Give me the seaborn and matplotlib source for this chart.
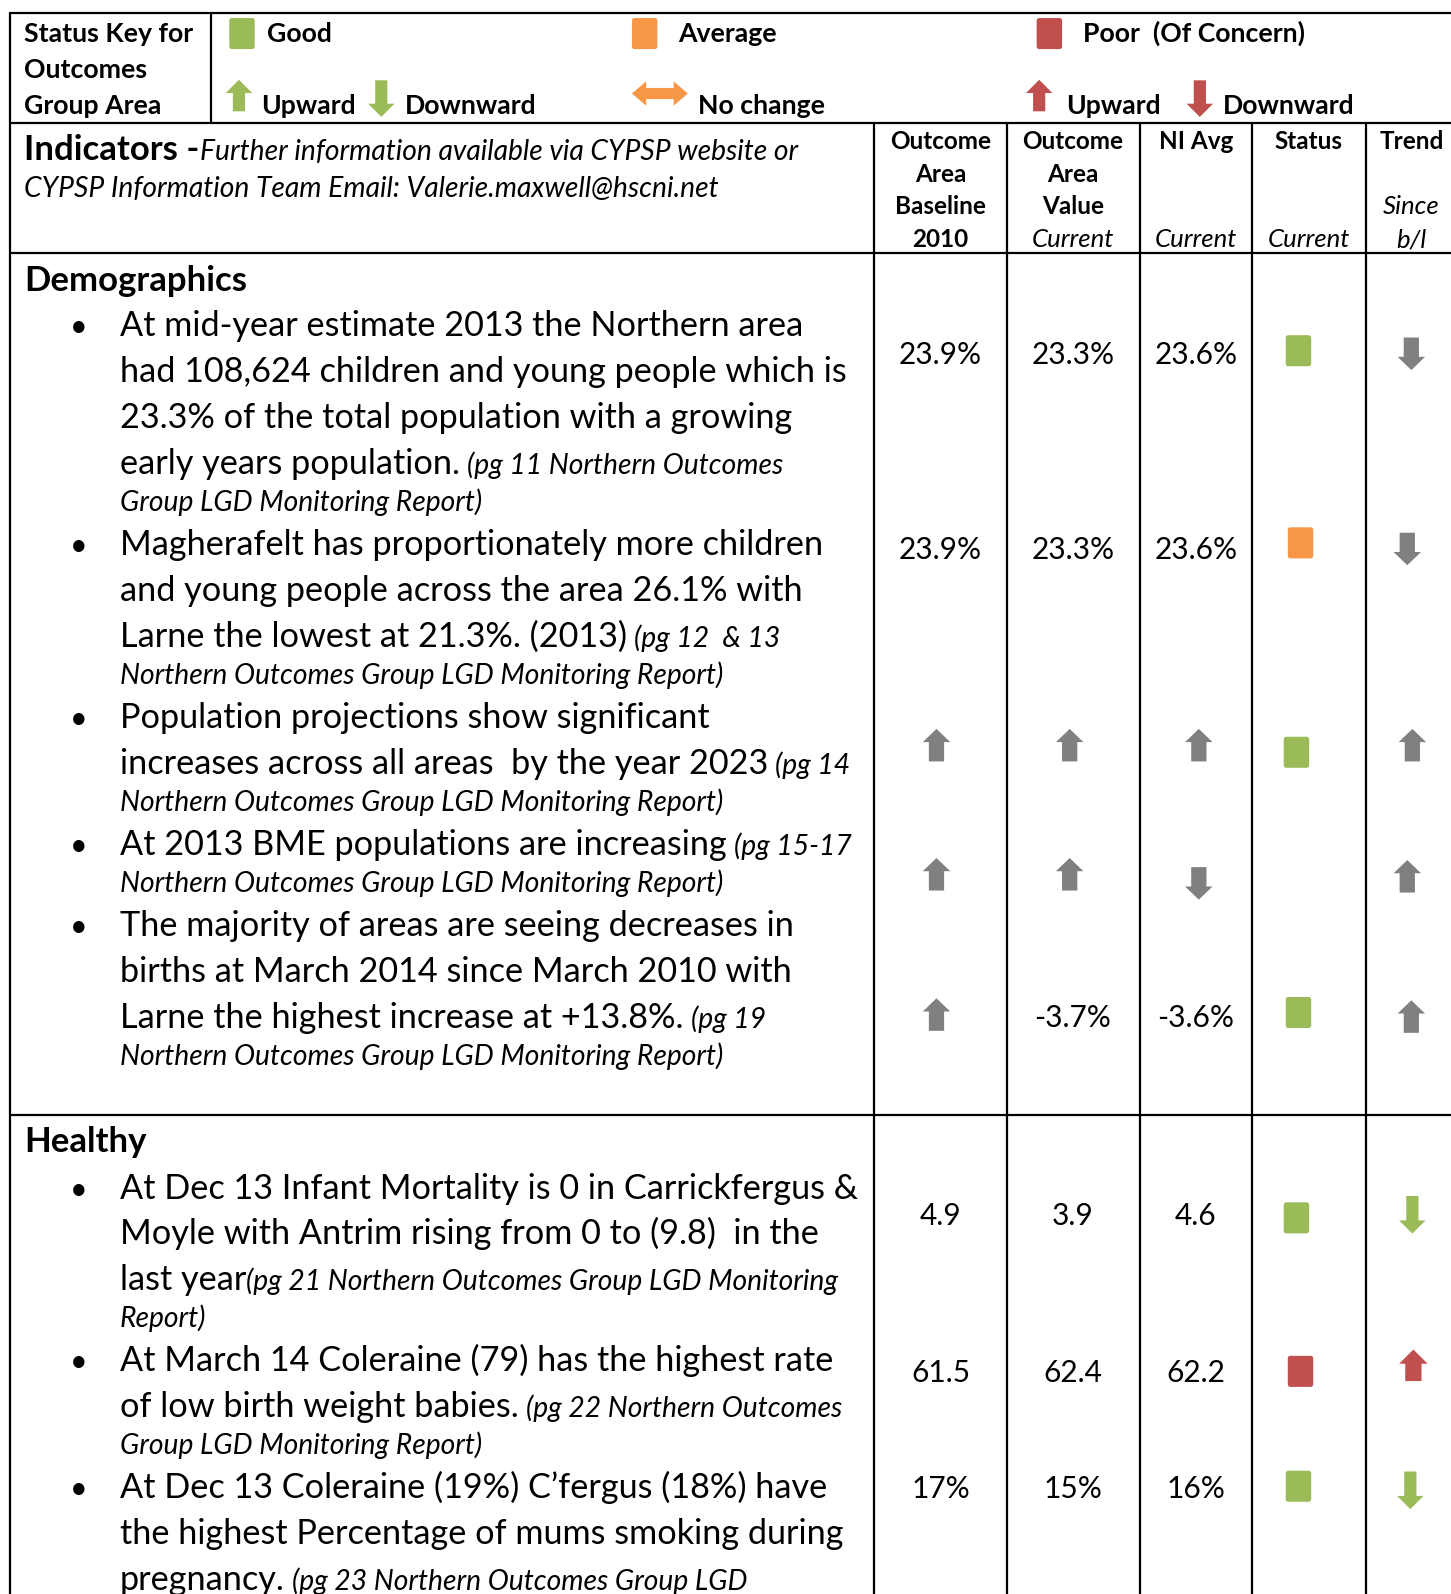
import numpy as np
import pandas as pd
import matplotlib
matplotlib.use("Agg")
import matplotlib.pyplot as plt
from matplotlib.patches import Polygon
from matplotlib.path import Path
import seaborn as sns

# ---------------- data ----------------
sections = ["Demographics", "Healthy"]

# one entry per indicator row (5 demographics + 3 healthy)
row_section = ["Demographics"] * 5 + ["Healthy"] * 3
baseline = ["23.9%", "23.9%", "up", "up", "up", "4.9", "61.5", "17%"]
area_value = ["23.3%", "23.3%", "up", "up", "-3.7%", "3.9", "62.4", "15%"]
ni_avg = ["23.6%", "23.6%", "up", "down", "-3.6%", "4.6", "62.2", "16%"]
status = ["Good", "Average", "Good", None, "Good", "Good", "Poor", "Good"]
trend = ["down", "down", "up", "up", "up", "down", "up", "down"]
trend_rating = [None, None, None, None, None, "Good", "Poor", "Good"]

# bullet texts, each line is a list of (text, style); a leading space means a gap
bullets = {
    "Demographics": [
        [[("At mid-year estimate 2013 the Northern area", "r")],
         [("had 108,624 children and young people which is", "r")],
         [("23.3% of the total population with a growing", "r")],
         [("early years population.", "r"), (" (pg 11 Northern Outcomes", "i")],
         [("Group LGD Monitoring Report)", "i")]],
        [[("Magherafelt has proportionately more children", "r")],
         [("and young people across the area 26.1% with", "r")],
         [("Larne the lowest at 21.3%. (2013)", "r"), (" (pg 12  & 13", "i")],
         [("Northern Outcomes Group LGD Monitoring Report)", "i")]],
        [[("Population projections show significant", "r")],
         [("increases across all areas  by the year 2023", "r"), (" (pg 14", "i")],
         [("Northern Outcomes Group LGD Monitoring Report)", "i")]],
        [[("At 2013 BME populations are increasing", "r"), (" (pg 15-17", "i")],
         [("Northern Outcomes Group LGD Monitoring Report)", "i")]],
        [[("The majority of areas are seeing decreases in", "r")],
         [("births at March 2014 since March 2010 with", "r")],
         [("Larne the highest increase at +13.8%.", "r"), (" (pg 19", "i")],
         [("Northern Outcomes Group LGD Monitoring Report)", "i")]],
    ],
    "Healthy": [
        [[("At Dec 13 Infant Mortality is 0 in Carrickfergus &", "r")],
         [("Moyle with Antrim rising from 0 to (9.8)  in the", "r")],
         [("last year", "r"), ("(pg 21 Northern Outcomes Group LGD Monitoring", "i")],
         [("Report)", "i")]],
        [[("At March 14 Coleraine (79) has the highest rate", "r")],
         [("of low birth weight babies.", "r"), (" (pg 22 Northern Outcomes", "i")],
         [("Group LGD Monitoring Report)", "i")]],
        [[("At Dec 13 Coleraine (19%) C\u2019fergus (18%) have", "r")],
         [("the highest Percentage of mums smoking during", "r")],
         [("pregnancy.", "r"), (" (pg 23 Northern Outcomes Group LGD", "i")]],
    ],
}

header_cols = [
    [("Outcome", "hb"), ("Area", "hb"), ("Baseline", "hb"), ("2010", "hb")],
    [("Outcome", "hb"), ("Area", "hb"), ("Value", "hb"), ("Current", "hi")],
    [("NI Avg", "hb"), ("", "hb"), ("", "hb"), ("Current", "hi")],
    [("Status", "hb"), ("", "hb"), ("", "hb"), ("Current", "hi")],
    [("Trend", "hb"), ("", "hb"), ("Since", "hi"), ("b/l", "hi")],
]

# ---------------- layout (reference units) ----------------
W, H = 1427, 1568
colours = {"Good": "#9BBB59", "Average": "#F79646", "Poor": "#C0504D", None: "#808080"}
row_y = [348, 540, 735, 862, 1000, 1195, 1349, 1464]
num_x = [925, 1055, 1176]
arrow_x = [921, 1052, 1179]
status_x = [1277, 1279, 1275, 1277, 1277, 1275, 1279, 1277]
status_y = [345, 534, 740, 862, 996, 1198, 1349, 1462]
trend_x = [1388, 1384, 1389, 1384, 1388, 1389, 1390, 1387]
trend_y = [348, 540, 733, 862, 1000, 1195, 1343, 1466]
section_top = {"Demographics": 320, "Healthy": 1168}
section_head_y = {"Demographics": 275, "Healthy": 1122}
v_lines = [860, 990, 1121, 1231, 1343]
h_lines = [121, 249, 1097]

sns.set_theme(style="white")
plt.rcParams["font.family"] = ["Lato", "DejaVu Sans"]

fig = plt.figure(figsize=(14.51, 15.94), dpi=100)
ax = fig.add_axes([0, 0, 1, 1])
ax.set_xlim(0, W)
ax.set_ylim(H, 0)
ax.axis("off")
renderer = fig.canvas.get_renderer()
px_per_unit = 1451 / W

styles = {
    "r": dict(fontsize=24.7, color="black"),
    "i": dict(fontsize=20.3, style="italic", color="black"),
    "hb": dict(fontsize=17.5, weight="bold", color="black"),
    "hi": dict(fontsize=18.5, style="italic", color="black"),
    "kb": dict(fontsize=19.2, weight="bold", color="black"),
    "big": dict(fontsize=25, weight="bold", color="black"),
    "info": dict(fontsize=20.3, style="italic", color="black"),
}


def put_parts(x, y, parts, gap=7):
    for text, st in parts:
        if text.startswith(" "):
            x += gap
            text = text.lstrip()
        t = ax.text(x, y, text, ha="left", va="baseline", **styles[st])
        x += t.get_window_extent(renderer).width / px_per_unit


def block_arrow(cx, cy, direction, length=32, shaft=15, head=27, head_len=13, color="#808080"):
    s = 1 if direction == "down" else -1
    tip = cy + s * length / 2
    tail = cy - s * length / 2
    neck = tip - s * head_len
    pts = [(cx - shaft / 2, tail), (cx + shaft / 2, tail), (cx + shaft / 2, neck),
           (cx + head / 2, neck), (cx, tip), (cx - head / 2, neck), (cx - shaft / 2, neck)]
    ax.add_patch(Polygon(pts, closed=True, facecolor=color, edgecolor="none", zorder=3))


def double_arrow(cx, cy, length=55, shaft=11, head=24, head_len=14, color="#F79646"):
    l, r = cx - length / 2, cx + length / 2
    pts = [(l, cy), (l + head_len, cy - head / 2), (l + head_len, cy - shaft / 2),
           (r - head_len, cy - shaft / 2), (r - head_len, cy - head / 2), (r, cy),
           (r - head_len, cy + head / 2), (r - head_len, cy + shaft / 2),
           (l + head_len, cy + shaft / 2), (l + head_len, cy + head / 2)]
    ax.add_patch(Polygon(pts, closed=True, facecolor=color, edgecolor="none", zorder=3))


# rounded rectangle marker, a bit taller than wide, for the status squares
def rounded_rect(w=0.82, h=1.0, r=0.08, n=5):
    pts = []
    for cx, cy, a0 in [(w / 2 - r, h / 2 - r, 0), (-w / 2 + r, h / 2 - r, 90),
                       (-w / 2 + r, -h / 2 + r, 180), (w / 2 - r, -h / 2 + r, 270)]:
        for a in np.linspace(a0, a0 + 90, n):
            pts.append((cx + r * np.cos(np.radians(a)), cy + r * np.sin(np.radians(a))))
    pts.append(pts[0])
    return Path(pts, [Path.MOVETO] + [Path.LINETO] * (len(pts) - 2) + [Path.CLOSEPOLY])


rect_marker = rounded_rect()

# ---------------- grid lines ----------------
lw = 1.6
ax.plot([10, W], [13, 13], color="black", lw=lw)
ax.plot([10, 10], [13, H], color="black", lw=lw)
ax.plot([208, 208], [13, 121], color="black", lw=lw)
for y in h_lines:
    ax.plot([10, W], [y, y], color="black", lw=lw)
for x in v_lines:
    ax.plot([x, x], [121, H], color="black", lw=lw)

# ---------------- status key ----------------
for y, txt in zip([41, 77, 112], ["Status Key for", "Outcomes", "Group Area"]):
    ax.text(24, y, txt, ha="left", va="baseline", **styles["kb"])

key = pd.DataFrame({"x": [238, 634, 1032], "y": [33, 33, 33], "status": ["Good", "Average", "Poor"]})
sns.scatterplot(data=key, x="x", y="y", hue="status", palette=colours, marker=rect_marker,
                s=500, linewidth=0, legend=False, ax=ax, zorder=3)
for x, txt in zip([263, 667, 1065], ["Good", "Average", "Poor  (Of Concern)"]):
    ax.text(x, 41, txt, ha="left", va="baseline", **styles["kb"])
block_arrow(235, 94, "up", length=31, shaft=12, head=26, head_len=13, color=colours["Good"])
block_arrow(375, 97, "down", length=36, shaft=12, head=26, head_len=13, color=colours["Good"])
double_arrow(649, 92)
block_arrow(1022, 94, "up", length=31, shaft=12, head=26, head_len=13, color=colours["Poor"])
block_arrow(1180, 97, "down", length=36, shaft=12, head=26, head_len=13, color=colours["Poor"])
for x, txt in zip([257, 398, 686, 1048, 1203], ["Upward", "Downward", "No change", "Upward", "Downward"]):
    ax.text(x, 112, txt, ha="left", va="baseline", **styles["kb"])

# ---------------- header row ----------------
put_parts(24, 157, [("Indicators -", "big"), ("Further information available via CYPSP website or", "info")])
put_parts(24, 194, [("CYPSP Information Team Email: Valerie.maxwell@hscni.net", "info")])
head_x = [925, 1055, 1176, 1287, 1388]
for cx, lines in zip(head_x, header_cols):
    for y, (txt, st) in zip([139, 171, 203, 235], lines):
        if txt:
            ax.text(cx, y + 8, txt, ha="center", va="baseline", **styles[st])

# ---------------- indicator text ----------------
for sec in sections:
    ax.text(24, section_head_y[sec] + 11, sec, ha="left", va="baseline", **styles["big"])
    y = section_top[sec]
    for b, lines in enumerate(bullets[sec]):
        if b > 0:
            y += 41.5
        ax.text(77, y + 11, "\u2022", ha="center", va="baseline", fontsize=22, color="black")
        for k, parts in enumerate(lines):
            regular = any(st == "r" for _, st in parts)
            if k > 0:
                y += 45 if regular else 38.5
            put_parts(118, y + (11 if regular else 9), parts)

# ---------------- values ----------------
for i, y in enumerate(row_y):
    for j, val in enumerate([baseline[i], area_value[i], ni_avg[i]]):
        if val in ("up", "down"):
            block_arrow(arrow_x[j], y + (7 if val == "down" else -2), val)
        else:
            ax.text(num_x[j], y + 10, val, ha="center", va="baseline", fontsize=21.5, color="black")
    col = colours[trend_rating[i]]
    if trend_rating[i] is None:
        block_arrow(trend_x[i], trend_y[i], trend[i])
    elif trend_rating[i] == "Poor":
        block_arrow(trend_x[i], trend_y[i], trend[i], length=31, shaft=16, head=28, head_len=14, color=col)
    else:
        block_arrow(trend_x[i], trend_y[i], trend[i], length=37, shaft=12, head=26, head_len=13, color=col)

marks = pd.DataFrame({"x": status_x, "y": status_y, "status": status}).dropna()
sns.scatterplot(data=marks, x="x", y="y", hue="status", palette=colours, marker=rect_marker,
                s=500, linewidth=0, legend=False, ax=ax, zorder=3)

ax.set_xlim(0, W)
ax.set_ylim(H, 0)
ax.axis("off")
fig.savefig("out.png", dpi=100, facecolor="white")
